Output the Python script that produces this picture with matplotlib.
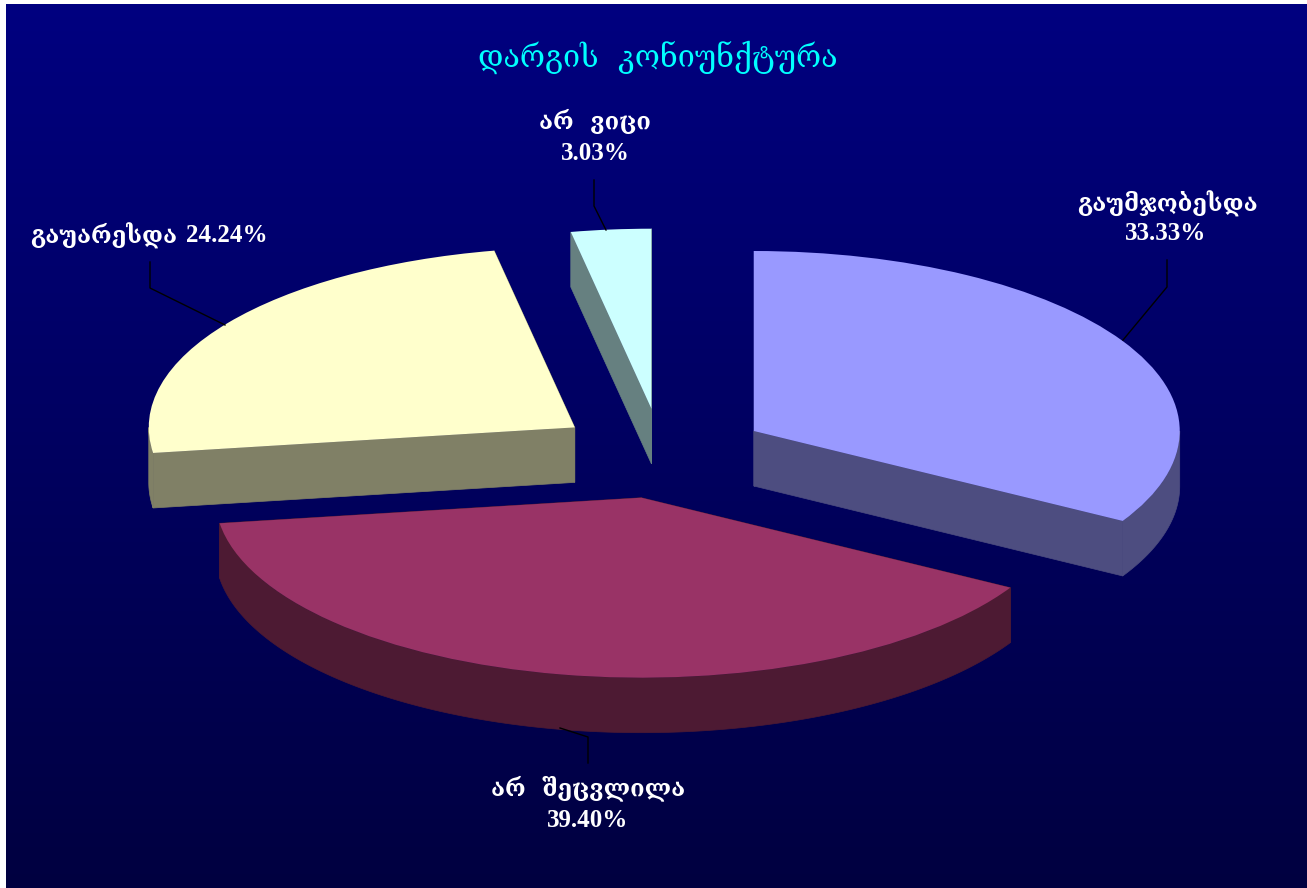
import matplotlib
matplotlib.use('Agg')
import matplotlib.pyplot as plt
import numpy as np
from matplotlib.patches import Polygon

# labels and shares
title_text = 'დარგის  კონიუნქტურა'
names = ['გაუმჯობესდა', 'არ  შეცვლილა', 'გაუარესდა', 'არ  ვიცი']
percents = ['33.33%', '39.40%', '24.24%', '3.03%']
values = [33.33, 39.40, 24.24, 3.03]
top_colors = ['#9999FF', '#993366', '#FFFFCC', '#CCFFFF']
side_colors = ['#4D4D80', '#4D1A33', '#808066', '#668080']

W, H = 1307, 888
fig = plt.figure(figsize=(W / 100, H / 100), dpi=100, facecolor='white')

# gradient panel behind everything
bg = fig.add_axes([6 / W, 0, (W - 6) / W, (H - 4) / H])
grad = np.linspace(0, 1, 256).reshape(-1, 1)
cols = np.zeros((256, 1, 3))
cols[:, :, 2] = (128 - 64 * grad) / 255
bg.imshow(cols, aspect='auto')
bg.axis('off')

# pie axes: x and y use different scales so the circle turns into an ellipse
ax = fig.add_axes([0, 0, 1, 1], facecolor='none')
rx, ry = 426, 180
cx, cy = 661.5, 453.5
depth = 55 / ry
explode = [0.25] * 4
wedges, _ = ax.pie(values, explode=explode, colors=top_colors, startangle=90,
                   counterclock=False, radius=1, normalize=True)
ax.set_aspect('auto')
ax.set_xlim(-cx / rx, (W - cx) / rx)
ax.set_ylim(-(H - cy) / ry, cy / ry)

for w, side in zip(wedges, side_colors):
    cxw, cyw = w.center
    a = np.radians(np.linspace(w.theta1, w.theta2, 2000))
    # outer wall, only the front half of the rim can be seen
    front = a[np.sin(a) <= 0]
    if len(front) > 1:
        xs = cxw + np.cos(front)
        ys = cyw + np.sin(front)
        strip = np.concatenate([np.column_stack([xs, ys]),
                                np.column_stack([xs, ys - depth])[::-1]])
        ax.add_patch(Polygon(strip, facecolor=side, edgecolor=side, lw=0.5, zorder=0.5))
    # the two cut faces
    for t in (a[0], a[-1]):
        ex, ey = cxw + np.cos(t), cyw + np.sin(t)
        ax.add_patch(Polygon([(cxw, cyw), (ex, ey), (ex, ey - depth), (cxw, cyw - depth)],
                             facecolor=side, edgecolor=side, lw=0.5, zorder=0.5))
    w.set_zorder(1)
    w.set_edgecolor('none')


def px(x, y):
    return (x - cx) / rx, (cy - y) / ry


# leader lines
leaders = [[(1123, 340), (1167, 287), (1167, 260)],
           [(560, 728), (588, 737), (588, 763)],
           [(225, 325), (150, 288), (150, 262)],
           [(606, 230), (594, 206), (594, 180)]]
for pts in leaders:
    p = [px(*q) for q in pts]
    ax.plot([q[0] for q in p], [q[1] for q in p], color='black', lw=1, zorder=2)

geo_font = ['DejaVu Serif', 'DejaVu Sans']
num_font = 'Liberation Serif'
name_spots = [(1167, 204), (588, 788), (104, 236), (595, 121)]
pct_spots = [(1166, 233), (588, 820), (227, 235), (595, 153)]
for s, (x, y) in zip(names, name_spots):
    ax.text(*px(x, y), s, color='white', ha='center', va='center', fontsize=17,
            family=geo_font, fontweight='bold', zorder=3)
for s, (x, y) in zip(percents, pct_spots):
    ax.text(*px(x, y), s, color='white', ha='center', va='center', fontsize=18,
            family=num_font, fontweight='bold', zorder=3)
ax.text(*px(657.5, 57), title_text, color='#00FFFF', ha='center', va='center',
        fontsize=22, family=geo_font, zorder=3)

fig.savefig('out.png', dpi=100, facecolor='white')
